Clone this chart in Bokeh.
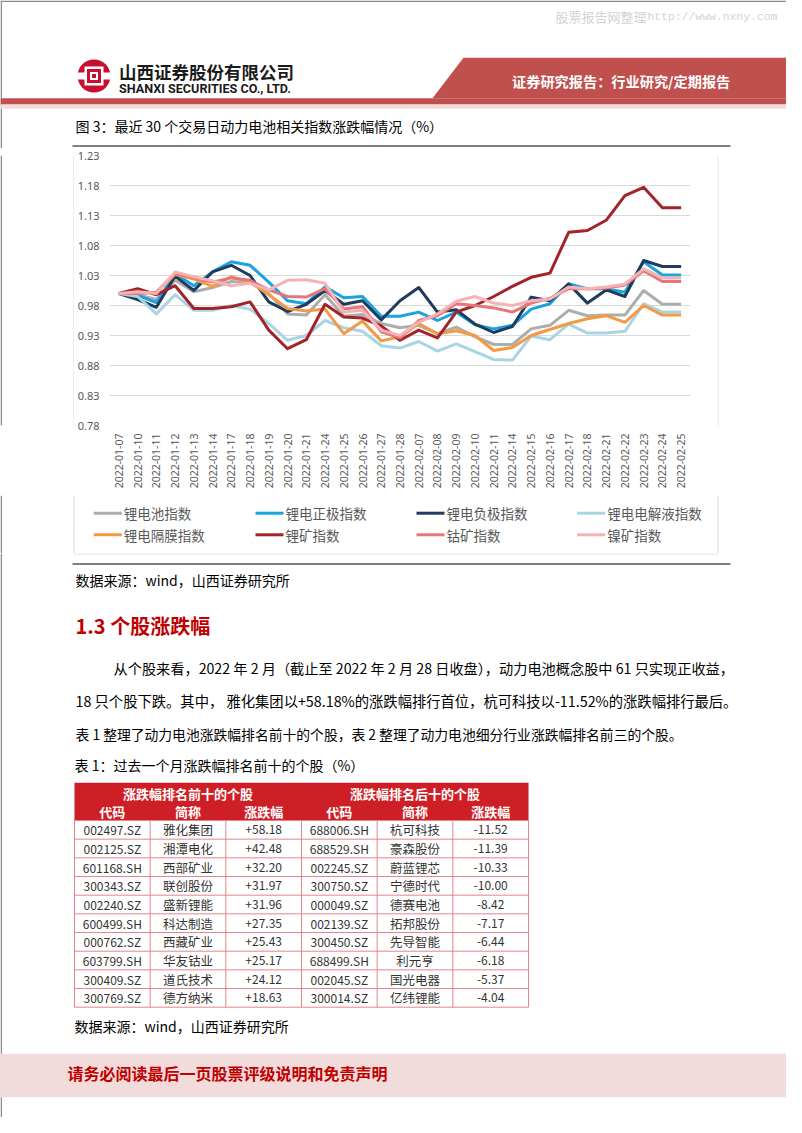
import math
from bokeh.plotting import figure
from bokeh.models import Range1d, FactorRange, FixedTicker, NumeralTickFormatter
from bokeh.layouts import column, row
from bokeh.core.properties import value
from bokeh.embed import file_html
from bokeh.resources import INLINE

# ---------------- data ----------------
dates = ["2022-01-07", "2022-01-10", "2022-01-11", "2022-01-12", "2022-01-13", "2022-01-14",
         "2022-01-17", "2022-01-18", "2022-01-19", "2022-01-20", "2022-01-21", "2022-01-24",
         "2022-01-25", "2022-01-26", "2022-01-27", "2022-01-28", "2022-02-07", "2022-02-08",
         "2022-02-09", "2022-02-10", "2022-02-11", "2022-02-14", "2022-02-15", "2022-02-16",
         "2022-02-17", "2022-02-18", "2022-02-21", "2022-02-22", "2022-02-23", "2022-02-24",
         "2022-02-25"]

li_battery = [1.000, 0.998, 0.990, 1.022, 1.003, 1.010, 1.020, 1.018, 1.000, 0.966, 0.964, 0.998,
              0.962, 0.965, 0.950, 0.943, 0.947, 0.933, 0.944, 0.928, 0.915, 0.915, 0.941, 0.947,
              0.972, 0.963, 0.964, 0.964, 1.005, 0.982, 0.982]
cathode = [1.000, 0.997, 0.985, 1.033, 1.013, 1.036, 1.053, 1.047, 1.019, 0.988, 0.983, 1.011,
           0.993, 0.995, 0.962, 0.962, 0.969, 0.955, 0.969, 0.948, 0.941, 0.947, 0.974, 0.983,
           1.016, 1.008, 1.008, 1.002, 1.053, 1.031, 1.031]
anode = [1.000, 0.990, 0.977, 1.029, 1.005, 1.036, 1.047, 1.030, 0.986, 0.970, 0.982, 1.005,
         0.982, 0.988, 0.956, 0.988, 1.010, 0.969, 0.973, 0.949, 0.935, 0.945, 0.994, 0.988,
         1.016, 0.984, 1.006, 0.995, 1.055, 1.045, 1.045]
electrolyte = [1.000, 0.995, 0.966, 0.998, 0.972, 0.972, 0.980, 0.974, 0.950, 0.922, 0.930, 0.955,
               0.943, 0.937, 0.913, 0.909, 0.920, 0.904, 0.916, 0.903, 0.890, 0.889, 0.929, 0.923,
               0.949, 0.934, 0.934, 0.937, 0.983, 0.969, 0.969]
separator = [1.000, 1.000, 1.002, 1.032, 1.024, 1.012, 1.028, 1.019, 0.998, 0.975, 0.971, 0.974,
             0.933, 0.954, 0.921, 0.928, 0.950, 0.933, 0.938, 0.930, 0.905, 0.910, 0.930, 0.940,
             0.950, 0.958, 0.963, 0.952, 0.980, 0.964, 0.964]
lithium_ore = [1.000, 1.008, 0.998, 1.013, 0.975, 0.975, 0.978, 0.986, 0.939, 0.908, 0.923, 0.982,
               0.961, 0.959, 0.946, 0.922, 0.939, 0.926, 0.969, 0.980, 0.995, 1.012, 1.027, 1.034,
               1.102, 1.105, 1.122, 1.163, 1.177, 1.143, 1.143]
cobalt_ore = [1.000, 1.000, 1.002, 1.034, 1.026, 1.019, 1.026, 1.022, 1.006, 0.995, 0.994, 1.008,
              0.974, 0.978, 0.936, 0.926, 0.955, 0.963, 0.983, 0.980, 0.976, 0.969, 0.984, 0.992,
              1.008, 1.008, 1.009, 1.014, 1.038, 1.020, 1.020]
nickel_ore = [1.000, 1.003, 1.000, 1.036, 1.028, 1.021, 1.013, 1.017, 1.006, 1.022, 1.023, 1.017,
              0.969, 0.972, 0.939, 0.930, 0.952, 0.966, 0.987, 0.995, 0.984, 0.980, 0.988, 0.991,
              1.011, 1.008, 1.011, 1.016, 1.041, 1.026, 1.026]

series_names = ["锂电池指数", "锂电正极指数", "锂电负极指数", "锂电电解液指数",
                "锂电隔膜指数", "锂矿指数", "钴矿指数", "镍矿指数"]
series_values = [li_battery, cathode, anode, electrolyte, separator, lithium_ore, cobalt_ore, nickel_ore]
series_colors = ["#ADADAD", "#1AA3E0", "#1F3B5E", "#A9D4E4", "#F39A45", "#A3232A", "#E5767A", "#F6B3B6"]

y_ticks = [0.78, 0.83, 0.88, 0.93, 0.98, 1.03, 1.08, 1.13, 1.18, 1.23]

table_header_groups = ["涨跌幅排名前十的个股", "涨跌幅排名后十的个股"]
table_columns = ["代码", "简称", "涨跌幅", "代码", "简称", "涨跌幅"]
top_codes = ["002497.SZ", "002125.SZ", "601168.SH", "300343.SZ", "002240.SZ",
             "600499.SH", "000762.SZ", "603799.SH", "300409.SZ", "300769.SZ"]
top_names = ["雅化集团", "湘潭电化", "西部矿业", "联创股份", "盛新锂能",
             "科达制造", "西藏矿业", "华友钴业", "道氏技术", "德方纳米"]
top_changes = ["+58.18", "+42.48", "+32.20", "+31.97", "+31.96",
               "+27.35", "+25.43", "+25.17", "+24.12", "+18.63"]
bottom_codes = ["688006.SH", "688529.SH", "002245.SZ", "300750.SZ", "000049.SZ",
                "002139.SZ", "300450.SZ", "688499.SH", "002045.SZ", "300014.SZ"]
bottom_names = ["杭可科技", "豪森股份", "蔚蓝锂芯", "宁德时代", "德赛电池",
                "拓邦股份", "先导智能", "利元亨", "国光电器", "亿纬锂能"]
bottom_changes = ["-11.52", "-11.39", "-10.33", "-10.00", "-8.42",
                  "-7.17", "-6.44", "-6.18", "-5.37", "-4.04"]

CJK = "Noto Sans CJK SC"
W = 786


def page_fig(x0, x1, y0, y1):
    p = figure(width=int(x1 - x0), height=int(y1 - y0), x_range=Range1d(x0, x1), y_range=Range1d(y1, y0),
               output_backend="svg", toolbar_location=None, tools="", min_border=0,
               x_axis_location=None, y_axis_location=None)
    p.grid.visible = False
    p.outline_line_color = None
    p.background_fill_color = "white"
    p.border_fill_color = "white"
    return p


def txt(p, x, y, s, size, color="#000000", bold=False, align="left", font=CJK):
    p.text(x=[x], y=[y], text=[s], text_font=value(font), text_font_size=f"{size}px",
           text_color=color, text_font_style="bold" if bold else "normal",
           text_align=align, text_baseline="middle")


def left_border(p, y0, y1):
    p.segment(x0=[0.75], y0=[y0], x1=[0.75], y1=[y1], line_color="#8C8C8C", line_width=1.5)


def box_sides(p, y0, y1):
    p.segment(x0=[73.5, 717.5], y0=[y0, y0], x1=[73.5, 717.5], y1=[y1, y1], line_color="#D9D9D9", line_width=1)


# ---------------- header ----------------
top = page_fig(0, W, 0, 148)
top.segment(x0=[0], y0=[0.75], x1=[W], y1=[0.75], line_color="#8C8C8C", line_width=1.5)
left_border(top, 0, 148)
txt(top, 555, 16, "股票报告网整理", 13, "#D3D3D3")
txt(top, 647, 16, "http://www.nxny.com", 11.4, "#D3D3D3", font="Liberation Mono")
# logo
top.circle(x=[93.5], y=[75.5], radius=16.5, fill_color="#C8102E", line_color=None)
top.rect(x=[93.5], y=[75.5], width=36, height=7, fill_color="white", line_color=None)
top.rect(x=[93.5], y=[75.5], width=19, height=19, fill_color="white", line_color=None)
top.rect(x=[93.5], y=[75.5], width=14, height=14, fill_color="#C8102E", line_color=None)
top.rect(x=[93.5], y=[75.5], width=8, height=8, fill_color="white", line_color=None)
top.rect(x=[93.5], y=[75.5], width=4, height=4, fill_color="#C8102E", line_color=None)
txt(top, 118.5, 71, "山西证券股份有限公司", 17.5, "#1A1A1A", bold=True)
txt(top, 118.5, 88, "SHANXI SECURITIES CO., LTD.", 12.6, "#1A1A1A", bold=True, font="Roboto")
top.patch(x=[463, W, W, 432], y=[57.3, 57.3, 97.7, 97.7], fill_color="#C0504D", line_color=None)
top.quad(left=[0], right=[W], top=[97.7], bottom=[104], fill_color="#C0504D", line_color=None)
top.quad(left=[0], right=[W], top=[104], bottom=[108.3], fill_color="#F2DCDB", line_color=None)
txt(top, 511.5, 80.5, "证券研究报告：行业研究/定期报告", 14.2, "white", bold=True)
txt(top, 75, 125, "图 3：最近 30 个交易日动力电池相关指数涨跌幅情况（%）", 14)
top.segment(x0=[72], y0=[145.5], x1=[730], y1=[145.5], line_color="black", line_width=1)

# ---------------- chart ----------------
chart = figure(width=643, height=347, x_range=FactorRange(factors=dates), y_range=Range1d(0.78, 1.23),
               output_backend="svg", toolbar_location=None, tools="",
               min_border_left=34, min_border_right=27, min_border_top=7, min_border_bottom=70)
chart.outline_line_color = None
chart.background_fill_color = "white"
chart.border_fill_color = "white"
for name, vals, col in zip(series_names, series_values, series_colors):
    chart.line(x=dates, y=vals, line_color=col, line_width=3, line_join="round", name=name)

chart.xgrid.grid_line_color = None
chart.ygrid.grid_line_color = "#D9D9D9"
chart.ygrid.grid_line_width = 1
chart.yaxis.ticker = FixedTicker(ticks=y_ticks)
chart.yaxis.formatter = NumeralTickFormatter(format="0.00")
for ax in (chart.xaxis[0], chart.yaxis[0]):
    ax.axis_line_color = None
    ax.major_tick_line_color = None
    ax.minor_tick_line_color = None
    ax.major_tick_out = 0
    ax.major_tick_in = 0
    ax.major_label_text_color = "#595959"
    ax.major_label_text_font = "Noto Sans"
chart.yaxis.major_label_text_font_size = "11px"
chart.yaxis.major_label_standoff = 10
chart.xaxis.major_label_text_font_size = "10.5px"
chart.xaxis.major_label_orientation = math.pi / 2
chart.xaxis.major_label_standoff = 8

left_strip = page_fig(0, 74, 148, 495)
left_border(left_strip, 148, 495)
left_strip.segment(x0=[73.5], y0=[146], x1=[73.5], y1=[495], line_color="#D9D9D9", line_width=1)
right_strip = page_fig(717, W, 148, 495)
right_strip.segment(x0=[717.5], y0=[146], x1=[717.5], y1=[495], line_color="#D9D9D9", line_width=1)

# legend panel (2 rows x 4 columns, below the axis labels, inside the chart box)
leg_fig = page_fig(0, W, 495, 553)
left_border(leg_fig, 495, 553)
box_sides(leg_fig, 495, 553)
leg_col_x = [93.3, 255.0, 416.0, 576.7]
leg_row_y = [512.7, 534.3]
lx, ly = [], []
for k in range(len(series_names)):
    lx.append(leg_col_x[k % 4])
    ly.append(leg_row_y[k // 4])
leg_fig.segment(x0=lx, y0=ly, x1=[v + 28 for v in lx], y1=ly, line_color=series_colors, line_width=3)
leg_fig.text(x=[v + 30 for v in lx], y=ly, text=series_names, text_font=value(CJK),
             text_font_size="13.5px", text_color="#595959", text_align="left", text_baseline="middle")

# ---------------- body ----------------
bot = page_fig(0, W, 553, 1117)
left_border(bot, 553, 1117)
bot.segment(x0=[73], y0=[553.5], x1=[718], y1=[553.5], line_color="#D9D9D9", line_width=1)
bot.segment(x0=[72], y0=[563.5], x1=[730], y1=[563.5], line_color="black", line_width=1)
txt(bot, 75, 579, "数据来源：wind，山西证券研究所", 14)
txt(bot, 75, 625, "1.3 个股涨跌幅", 20, "#C00000", bold=True)
txt(bot, 113, 667, "从个股来看，2022 年 2 月（截止至 2022 年 2 月 28 日收盘），动力电池概念股中 61 只实现正收益，", 14.2)
txt(bot, 75, 700, "18 只个股下跌。其中， 雅化集团以+58.18%的涨跌幅排行首位，杭可科技以-11.52%的涨跌幅排行最后。", 14.3)
txt(bot, 75, 733, "表 1 整理了动力电池涨跌幅排名前十的个股，表 2 整理了动力电池细分行业涨跌幅排名前三的个股。", 13.8)
txt(bot, 74, 764, "表 1：过去一个月涨跌幅排名前十的个股（%）", 14)

# table
t_left, t_right = 74.0, 528.0
col_w = (t_right - t_left) / 6
edges = [t_left + col_w * i for i in range(7)]
centers = [t_left + col_w * (i + 0.5) for i in range(6)]
h_top, h_bot = 782.3, 820.0
row_h = 18.67
bot.quad(left=[t_left], right=[t_right], top=[h_top], bottom=[h_bot], fill_color="#CF1F26", line_color=None)
bot.text(x=[(edges[0] + edges[3]) / 2, (edges[3] + edges[6]) / 2], y=[792.7, 792.7], text=table_header_groups,
         text_font=value(CJK), text_font_size="13px", text_color="white", text_font_style="bold",
         text_align="center", text_baseline="middle")
bot.text(x=centers, y=[811] * 6, text=table_columns, text_font=value(CJK), text_font_size="13px",
         text_color="white", text_font_style="bold", text_align="center", text_baseline="middle")
n = len(top_codes)
row_y = [h_bot + row_h * (k + 0.5) for k in range(n)]
t_end = h_bot + row_h * n
grid_c = "#E6848B"
bot.segment(x0=[t_left] * (n + 1), y0=[h_bot + row_h * k for k in range(n + 1)],
            x1=[t_right] * (n + 1), y1=[h_bot + row_h * k for k in range(n + 1)], line_color=grid_c, line_width=1)
bot.segment(x0=edges, y0=[h_bot] * 7, x1=edges, y1=[t_end] * 7, line_color=grid_c, line_width=1)
bot.segment(x0=[t_left, t_right], y0=[h_top] * 2, x1=[t_left, t_right], y1=[h_bot] * 2, line_color=grid_c, line_width=1)
cols = [top_codes, top_names, top_changes, bottom_codes, bottom_names, bottom_changes]
sizes = ["12px", "12.5px", "12px", "12px", "12.5px", "12px"]
for ci, (vals, sz) in enumerate(zip(cols, sizes)):
    bot.text(x=[centers[ci]] * n, y=row_y, text=vals, text_font=value(CJK), text_font_size=sz,
             text_color="#333333", text_align="center", text_baseline="middle")

txt(bot, 74, 1025.5, "数据来源：wind，山西证券研究所", 14)
bot.quad(left=[0], right=[W], top=[1053.3], bottom=[1096.7], fill_color="#F2DCDB", line_color=None)
txt(bot, 67, 1072, "请务必阅读最后一页股票评级说明和免责声明", 16, "#C00000", bold=True)

layout = column(top, row(left_strip, chart, right_strip), leg_fig, bot)
open("out.html", "w").write(file_html(layout, INLINE))
